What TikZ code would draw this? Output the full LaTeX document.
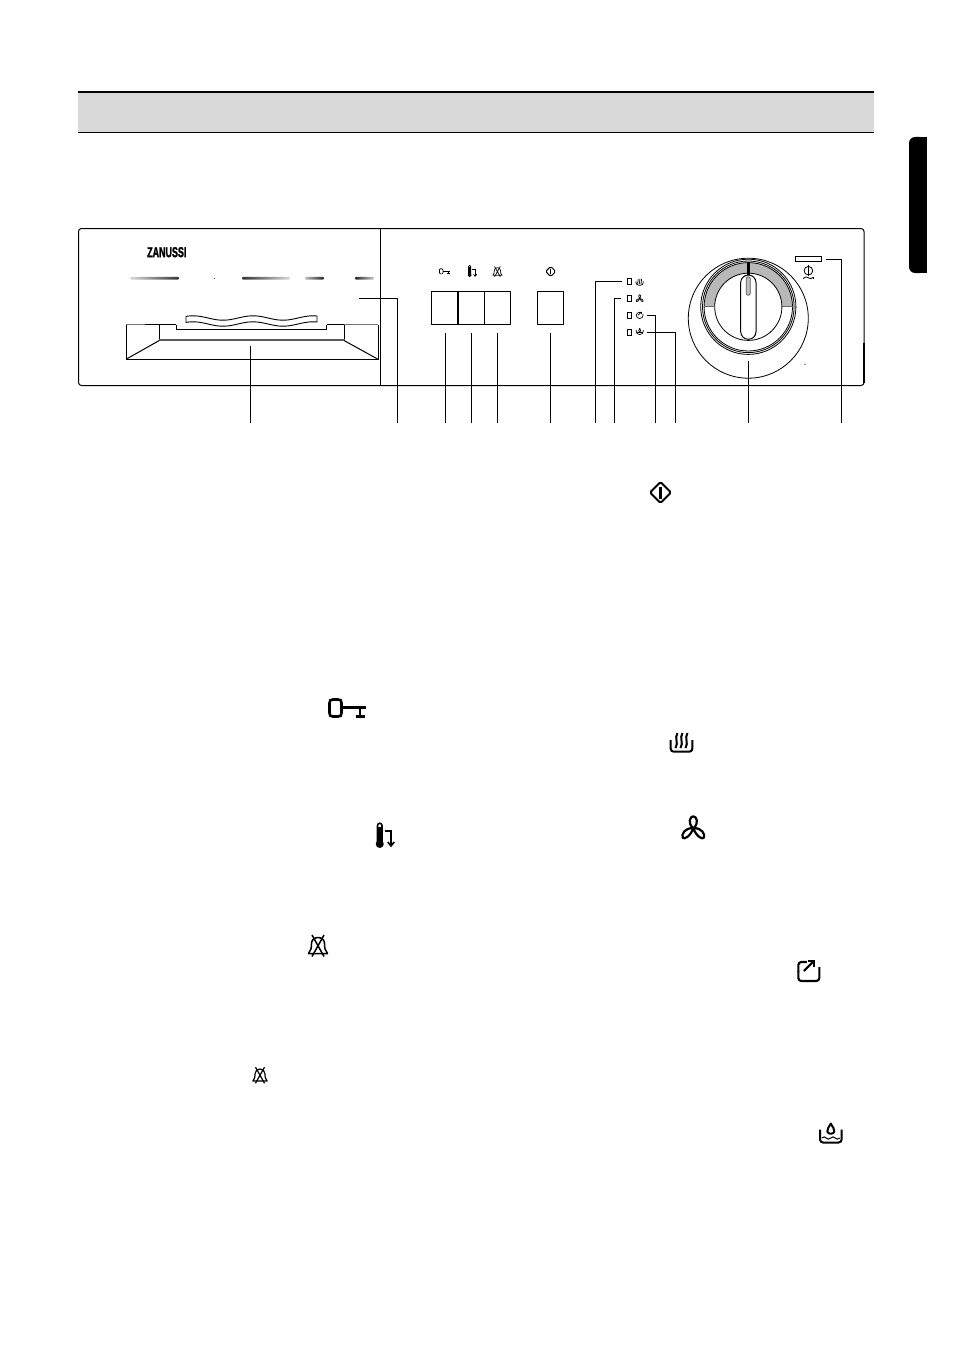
\documentclass[tikz,border=0pt]{standalone}
\usepackage{fontspec}
\setmainfont{Liberation Sans}
\newfontfamily\brandfont[FakeBold=2.2]{Liberation Sans Bold}
\tikzset{
  x=1pt,y=-1pt,
  panel/.style={line width=1pt,line join=round},
  leader/.style={line width=1pt},
  knobline/.style={line width=.8pt},
  startkey/.pic={
    \draw[rounded corners=1.5pt,line join=round] (0,-10.5)--(10.5,0)--(0,10.5)--(-10.5,0)--cycle;
    \draw (0,-6)--(0,6);
  },
  keysym/.pic={
    \draw (-14.5,-8.5) -- (-9.5,-8.5) .. controls (-7,-8.5) and (-6,-7.5) .. (-6,-5) -- (-6,5) .. controls (-6,7.5) and (-7,8.5) .. (-9.5,8.5) -- (-14.5,8.5) .. controls (-17,8.5) and (-18,7.5) .. (-18,5) -- (-18,-5) .. controls (-18,-7.5) and (-17,-8.5) .. (-14.5,-8.5) -- cycle;
    \draw (-6,-0.7)--(18.5,-0.7);
    \draw (12.5,-0.7)--(12.5,8);
    \draw (8,8.3)--(17,8.3);
  },
  thermsym/.pic={
    \draw (-6,-9.5)--(-6,8) (-1.5,8)--(-1.5,-9.5) arc[start angle=0,end angle=-180,radius=2.25];
    \fill (-6,-8) rectangle (-1.5,8);
    \fill (-3.75,9) circle[radius=4];
    \draw (1,-4)--(7.5,-4)--(7.5,10);
    \draw (4.3,7)--(7.5,11)--(10.7,7);
  },
  bellsym/.pic={
    \draw[line join=round] (-9.5,8) .. controls (-7,5.5) and (-6.5,2) .. (-6.5,-2) .. controls (-6.5,-10) and (6.5,-10) .. (6.5,-2) .. controls (6.5,2) and (7,5.5) .. (9.5,8) -- cycle;
    \draw (-6,-10.5)--(6,11) (6,-10.5)--(-6,11);
  },
  steamsym/.pic={
    \draw[rounded corners=3pt] (-10.8,-5.5)--(-10.8,6.2)--(10.8,6.2)--(10.8,-5.5);
    \foreach \d in {-5,0,5}{
      \draw[xshift=\d] (1,-12.5) .. controls (-2.5,-7) and (2.5,-3) .. (-1,2.5);
    }
  },
  fansym/.pic={
    \draw[line join=round] (0,0) .. controls (-6,-5) and (-3.5,-12) .. (0,-12) .. controls (3.5,-12) and (6,-5) .. (0,0)
      .. controls (-3,8) and (-9,11.5) .. (-10.5,9.5) .. controls (-12.5,6) and (-8,-1) .. (0,0)
      .. controls (8,-1) and (12.5,6) .. (10.5,9.5) .. controls (9,11.5) and (3,8) .. (0,0) -- cycle;
  },
  exportsym/.pic={
    \draw[rounded corners=3pt] (-10.5,1)--(-10.5,-9)--(-2,-9);
    \draw[rounded corners=3pt] (-10.5,0)--(-10.5,10)--(10.5,10)--(10.5,-4);
    \draw (-5,0)--(4,-9);
    \draw (-1,-9.8)--(4.8,-9.8)--(4.8,-4);
  },
  watersym/.pic={
    \draw[rounded corners=3pt] (-10.8,-5.5)--(-10.8,7.5)--(10.8,7.5)--(10.8,-5.5);
    \draw[line join=round] (0,-11.5) .. controls (1.5,-8) and (4,-6.5) .. (3.5,-3.5) .. controls (3,-0.5) and (-3,-0.5) .. (-3.5,-3.5) .. controls (-4,-6.5) and (-1.5,-8) .. (0,-11.5) -- cycle;
    \draw[line width=1pt] (-9,3) .. controls (-7,1.5) and (-6,1.5) .. (-4.5,3) .. controls (-3,4.5) and (-1.5,4.5) .. (0,3) .. controls (1.5,1.5) and (3,1.5) .. (4.5,3) .. controls (6,4.5) and (7,4.5) .. (9,3);
  },
  powersym/.pic={
    \draw (0,-2.3) circle[radius=4.3];
    \draw (0,-8)--(0,3);
    \draw (-5,5.3) .. controls (-3,3.5) and (-2,3.5) .. (0,4.8) .. controls (2,6) and (3,6) .. (5,4.3);
    \draw (-5,5)--(-5,6.3) (5,4.3)--(5,6.3);
  }
}
\begin{document}
\begin{tikzpicture}
\useasboundingbox (0,0) rectangle (954,1351);
\fill[white] (0,0) rectangle (954,1351);

% header band
\fill[black!15] (78,92) rectangle (874,132);
\draw[line width=2pt] (78,92)--(874,92);
\draw[line width=.8pt] (78,132.5)--(874,132.5);

% side tab
\fill[black,rounded corners=6pt] (926,137)--(909,137)--(909,273)--(926,273)--cycle;
\fill[black] (918,137) rectangle (926.5,273);

% panel
\draw[panel,rounded corners=3pt] (78.5,228.5) rectangle (864,385.5);
\draw[panel] (380.5,228.5)--(380.5,385.5);
\draw[line width=1.2pt] (864,343)--(864,383);

% brand
\node[inner sep=0pt,anchor=west] (brand) at (147,252.2) {\scalebox{.62}[1]{\fontsize{14.4pt}{15pt}\selectfont\brandfont ZANUSSI}};

% gradient bars
\shade[left color=black!14,right color=black!80,rounded corners=1pt] (130,276.8) rectangle (179,279.6);
\fill[black!70] (214,277.6) rectangle (215.2,278.8);
\shade[left color=black!80,right color=black!14,rounded corners=1pt] (242,276.8) rectangle (290,279.6);
\shade[left color=black!25,right color=black!85,rounded corners=1pt] (305,276.8) rectangle (324,279.6);
\shade[left color=black!85,right color=black!20,rounded corners=1pt] (355,276.8) rectangle (374,279.6);

% tray
\draw[line width=.8pt,black!55] (126,324.5)--(159,324.5);
\draw[line width=1.3pt] (145,324.5)--(176,324.5) (327,324.5)--(358,324.5);
\draw[line width=.8pt,black!55] (344,324.5)--(378,324.5);
\draw[line width=1pt] (126,324.5)--(126,359.5)--(378,359.5)--(378,324.5);
\draw[line width=1pt] (159.3,324.5)--(159.3,340) (344,324.5)--(344,340);
\draw[line width=2pt,black!65] (159,340)--(344.5,340);
\draw[line width=1pt] (159.3,340.5)--(126.5,359) (344,340.5)--(377.5,359);
\draw[line width=.9pt] (176,324.5)--(176,329)--(326.7,329)--(326.7,324.5);
\draw[line width=.9pt,fill=white,line join=round]
  plot[domain=186:317,samples=70] (\x,{318-2.2*cos(6*(\x-193))})
  -- plot[domain=317:186,samples=70] (\x,{324-2.2*cos(6*(\x-193))}) -- cycle;

% buttons
\draw[panel] (431.3,291) rectangle (457.7,324.3);
\draw[panel] (457.7,291) rectangle (484.3,324.3);
\draw[panel] (484.3,291) rectangle (510.7,324.3);
\draw[line width=1.8pt] (457.7,291)--(457.7,324.3);
\draw[panel] (537.3,291) rectangle (563.3,324.3);

% panel icons
\pic[scale=.3,line width=.7pt] at (444.8,271.3) {keysym};
\pic[scale=.48,line width=.8pt] at (471.5,271) {thermsym};
\pic[scale=.48,line width=.7pt] at (497.4,271.5) {bellsym};
\pic[scale=.48,line width=1pt] at (550.7,271.5) {startkey};

% LEDs
\foreach \y in {278.7,295.7,312.3,329.3}{
  \draw[line width=1pt] (627.5,\y) rectangle (631,\y+5.8);
}
\pic[scale=.34,line width=.7pt] at (639.6,283.2) {steamsym};
\pic[scale=.32,line width=.7pt] at (639.7,298.5) {fansym};
\pic[scale=.32,line width=.7pt] at (639.7,315.2) {exportsym};
\pic[scale=.32,line width=.7pt] at (639.7,332) {watersym};

% dial
\draw[line width=.8pt] (748.3,318.2) circle[radius=60];
\draw[knobline,fill=white] (748.3,306.8) circle[radius=47.6];
\draw[knobline] (748.3,306.8) circle[radius=45.8];
\begin{scope}
\clip (690,250) rectangle (810,306.8);
\fill[black!28] (748.3,306.8) circle[radius=44.2];
\end{scope}
\draw[knobline] (748.3,306.8) circle[radius=44.2];
\draw[knobline,fill=white] (748.3,306.8) circle[radius=33.6];
\draw[line width=.8pt,black!60] (704,306.8)--(715,306.8) (781.6,306.8)--(792.6,306.8);
\draw[line width=2.4pt] (748.3,262)--(748.3,275);
\draw[line width=1pt,fill=white,rounded corners=7.6pt] (740.7,275) rectangle (756,339.3);
\draw[line width=.7pt,black!65,fill=black!25,rounded corners=2pt] (746.2,276.7) rectangle (750.3,295.3);
\fill (805,364.3) circle[radius=.6];

% power marker
\draw[line width=1pt] (795.3,256.9) rectangle (821.7,261.7);
\pic[line width=.8pt] at (808.4,273) {powersym};

% leaders
\foreach \n/\x/\y in {a/250.5/346,c/445.3/333,d/471.3/333,e/497.3/333,f/550.3/333,l/748.3/360.7}{
  \coordinate (\n1) at (\x,\y);
  \coordinate (\n2) at (\x,423);
  \draw[leader] (\n1)--(\n2);
}
\foreach \n/\xs/\ys/\xe in {b/359/298/397.3,g/622/281/595.3,h/620.7/298/614.3,i/647.3/315.3/655.3,j/647.3/332.3/675.3,m/826.3/259.3/841.3}{
  \coordinate (\n1) at (\xs,\ys);
  \coordinate (\n2) at (\xe,423);
  \draw[leader] (\n1)-|(\n2);
}

% legend symbols
\pic[line width=2.1pt] at (660.5,492.5) {startkey};
\pic[line width=2.6pt] at (347.5,708) {keysym};
\pic[line width=1.6pt] at (383.5,835) {thermsym};
\pic[line width=1.5pt] at (318,945.5) {bellsym};
\pic[scale=.75,line width=1.2pt] at (260,1075) {bellsym};
\pic[line width=2pt] at (681.5,745.5) {steamsym};
\pic[line width=2.2pt] at (693.3,828.3) {fansym};
\pic[line width=2.1pt] at (808.8,971) {exportsym};
\pic[line width=2pt] at (830.8,1135) {watersym};
\end{tikzpicture}
\end{document}
